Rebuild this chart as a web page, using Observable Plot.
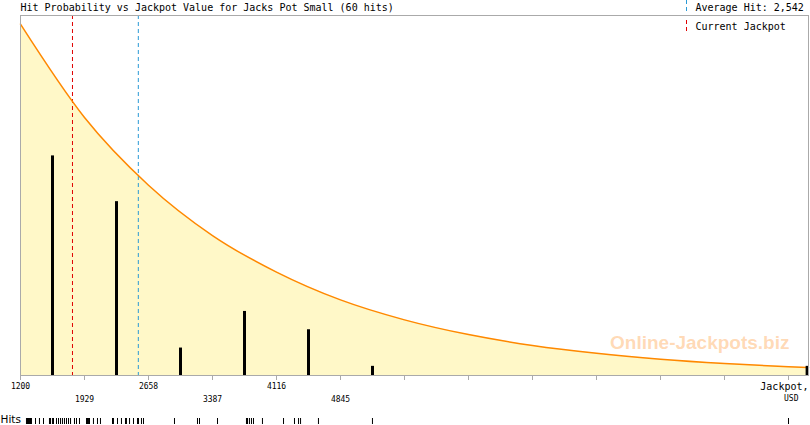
<!DOCTYPE html>
<html><head><meta charset="utf-8">
<script src="https://cdn.jsdelivr.net/npm/d3@7"></script>
<script src="https://cdn.jsdelivr.net/npm/@observablehq/plot@0.6"></script>
<style>body{margin:0;background:#fff}</style>
</head><body><div id="chart"></div>
<script>
const titleText = "Hit Probability vs Jackpot Value for Jacks Pot Small (60 hits)";
const averageHit = 2542;
const currentJackpot = 1792;
const tickValues = [1200, 1929, 2658, 3387, 4116, 4845, 5574, 6303, 7032, 7761, 8490, 9219, 9948];
const labelRow1 = [1200, 2658, 4116];
const labelRow2 = [1929, 3387, 4845];
const binCenters = [1564.5, 2293.5, 3022.5, 3751.5, 4480.5, 5209.5, 10160];
const binCounts = [24, 19, 3, 7, 5, 1, 1];
const curveX = [1200, 1929, 2658, 3387, 4116, 4845, 5574, 6303, 7032, 7761, 8490, 9219, 9948, 10176];
const curveY = [38.4, 28.2, 20.8, 15.3, 11.3, 8.26, 6.08, 4.47, 3.28, 2.42, 1.78, 1.31, 0.96, 0.87];
const hits = [1268, 1280, 1291, 1303, 1314, 1325, 1371, 1416, 1462, 1530, 1542, 1564, 1576, 1610, 1633, 1656,
  1678, 1701, 1724, 1747, 1770, 1815, 1838, 1872,
  1952, 1963, 1975, 1986, 2031, 2077, 2111, 2248, 2259, 2305, 2350, 2396, 2407, 2442, 2487, 2533, 2544, 2578, 2601,
  2954, 3216, 3239,
  3444, 3774, 3786, 3808, 3831, 3854, 3956,
  4196, 4321, 4367, 4390, 4594,
  5209,
  9948];

const W = 810, H = 425, mL = 20, mR = 2, mT = 15, mB = 50;
const xMax = 1200 + (W - mL - mR) / 64 * 729;
const bins = binCenters.map((x, i) => ({x, n: binCounts[i]}));
const curve = curveX.map((x, i) => ({x, y: curveY[i]}));
const mono = "DejaVu Sans Mono";

const chart = Plot.plot({
  width: W, height: H,
  marginLeft: mL, marginRight: mR, marginTop: mT, marginBottom: mB,
  x: {domain: [1200, xMax], axis: null},
  y: {domain: [0, 360 / 9.15], axis: null},
  style: {fontFamily: mono, background: "white", color: "black", overflow: "visible"},
  marks: [
    Plot.areaY(curve, {x: "x", y: "y", fill: "#fff8c8", curve: "monotone-x"}),
    Plot.text(["Online-Jackpots.biz"], {frameAnchor: "bottom-right", dx: -19, dy: -27, textAnchor: "end",
      fontSize: 19, fontWeight: "bold", fontFamily: "Liberation Sans, Arial, sans-serif",
      fill: "#ffa54f", fillOpacity: 0.42}),
    Plot.ruleX([currentJackpot], {stroke: "#e00000", strokeDasharray: "4,3"}),
    Plot.ruleX([averageHit], {stroke: "#2a9ad6", strokeDasharray: "4,3"}),
    Plot.lineY(curve, {x: "x", y: "y", stroke: "#ff8800", strokeWidth: 1.5, curve: "monotone-x"}),
    Plot.ruleX(bins, {x: "x", y1: 0, y2: "n", stroke: "black", strokeWidth: 3}),
    Plot.frame({stroke: "#aaaaaa"}),
    Plot.axisX({ticks: tickValues, tickFormat: d => labelRow1.includes(d) ? String(d) : "",
      tickSize: 5, tickPadding: 3, stroke: "#aaaaaa", fontSize: 8, label: null}),
    Plot.axisX({ticks: labelRow2, tickFormat: d => String(d), tickSize: 0, tickPadding: 21, fontSize: 8, label: null}),
    Plot.text(["Jackpot,"], {frameAnchor: "bottom-right", dy: 7, lineAnchor: "top", textAnchor: "end", fontSize: 10}),
    Plot.text(["USD"], {frameAnchor: "bottom-right", dx: -10, dy: 20, lineAnchor: "top", textAnchor: "end", fontSize: 8}),
    Plot.ruleX(hits, {x: d => d, insetTop: 403, insetBottom: -49, stroke: "black"}),
    Plot.text(["Hits"], {frameAnchor: "bottom-left", dx: -20, dy: 40, lineAnchor: "top", textAnchor: "start",
      fontFamily: "DejaVu Sans", fontSize: 10.5}),
    Plot.text([titleText], {frameAnchor: "top-left", dy: -12, lineAnchor: "top", textAnchor: "start", fontSize: 10}),
    Plot.text([`Average Hit: ${d3.format(",")(averageHit)}`], {frameAnchor: "top-left", dx: 675, dy: -12,
      lineAnchor: "top", textAnchor: "start", fontSize: 10}),
    Plot.text(["Current Jackpot"], {frameAnchor: "top-left", dx: 675, dy: 7.5,
      lineAnchor: "top", textAnchor: "start", fontSize: 10})
  ]
});

// legend markers (decoration)
const svg = d3.select(chart);
svg.append("line").attr("x1", 686.5).attr("x2", 686.5).attr("y1", 0).attr("y2", 12)
  .attr("stroke", "#2a9ad6").attr("stroke-dasharray", "4,3");
svg.append("line").attr("x1", 686.5).attr("x2", 686.5).attr("y1", 20).attr("y2", 33)
  .attr("stroke", "#e00000").attr("stroke-dasharray", "4,3");

document.getElementById("chart").appendChild(chart);
</script>
</body></html>
